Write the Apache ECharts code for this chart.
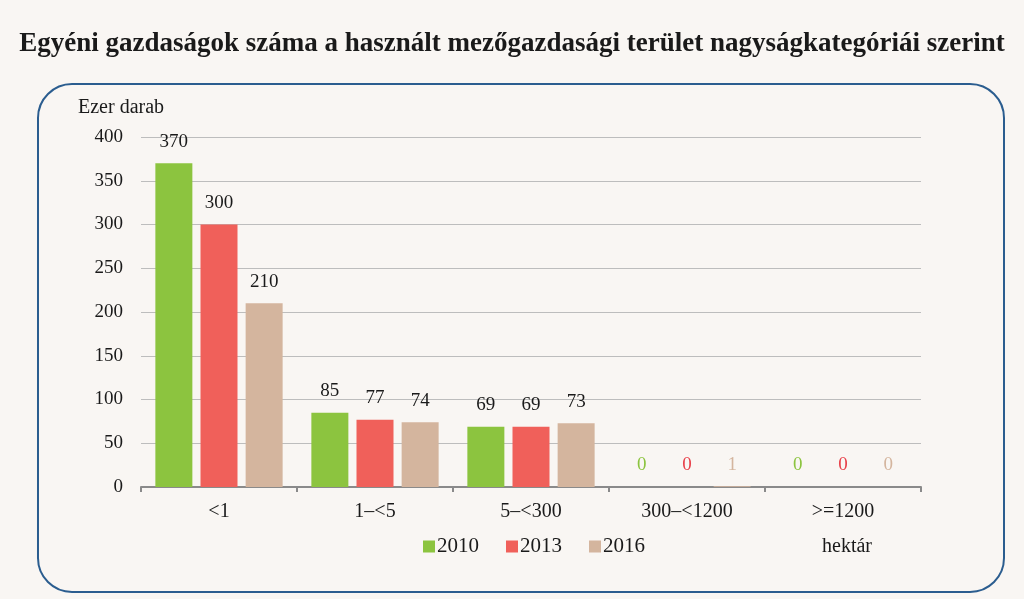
<!DOCTYPE html>
<html><head><meta charset="utf-8">
<script src="https://cdn.jsdelivr.net/npm/echarts@6/dist/echarts.min.js"></script>
<style>html,body{margin:0;padding:0;background:#f9f6f3}#c{width:1024px;height:599px}</style>
</head><body><div id="c"></div>
<script>
const categories = ['<1', '1–<5', '5–<300', '300–<1200', '>=1200'];
const years = ['2010', '2013', '2016'];
const v2010 = [370, 85, 69, 0, 0];
const v2013 = [300, 77, 69, 0, 0];
const v2016 = [210, 74, 73, 1, 0];
const yTicks = [0, 50, 100, 150, 200, 250, 300, 350, 400];

const colors = ['#8cc43f', '#f0605a', '#d4b59e'];
const labelColors = ['#8cc43f', '#e8414a', '#d4b59e'];
const F = '"Liberation Serif", "DejaVu Serif", serif';
const chart = echarts.init(document.getElementById('c'));
const mk = (vals, i) => ({
  name: years[i], type: 'bar', barWidth: 37, barGap: '22%',
  itemStyle: { color: colors[i] },
  data: vals.map((v, k) => ({
    value: v,
    label: { color: k >= 3 ? labelColors[i] : '#1a1a1a' }
  })),
  label: { show: true, position: 'top', distance: 12, fontFamily: F, fontSize: 19 }
});
chart.setOption({
  backgroundColor: '#f9f6f3',
  animation: false,
  title: {
    text: 'Egyéni gazdaságok száma a használt mezőgazdasági terület nagyságkategóriái szerint',
    left: 'center', top: 26,
    textStyle: { fontFamily: F, fontSize: 27, fontWeight: 'bold', color: '#1a1a1a' }
  },
  graphic: [
    { type: 'rect', shape: { x: 38, y: 84, width: 966, height: 508, r: 34 },
      style: { fill: 'none', stroke: '#2b5d8f', lineWidth: 2 }, z: -1 },
    { type: 'text', left: 78, top: 98, style: { text: 'Ezer darab', font: '20px ' + F, fill: '#1a1a1a' } },
    { type: 'text', left: 822, top: 537, style: { text: 'hektár', font: '20px ' + F, fill: '#1a1a1a' } }
  ],
  legend: {
    bottom: 37, left: 418, itemWidth: 12, itemHeight: 12, itemGap: 27,
    icon: 'rect',
    textStyle: { fontFamily: F, fontSize: 21, color: '#1a1a1a' , padding: [0,0,0,-3]},
    data: years
  },
  grid: { left: 141, right: 103, top: 137, bottom: 112 },
  xAxis: {
    type: 'category', data: categories,
    axisLine: { lineStyle: { color: '#8a8a8a', width: 2 } },
    axisTick: { show: true, length: 5, lineStyle: { color: '#8a8a8a', width: 2 } },
    axisLabel: { fontFamily: F, fontSize: 20, color: '#1a1a1a', margin: 15 }
  },
  yAxis: {
    type: 'value', min: 0, max: 400, interval: 50,
    axisLine: { show: false }, axisTick: { show: false },
    axisLabel: { fontFamily: F, fontSize: 19, color: '#1a1a1a', margin: 18,
      formatter: v => yTicks.includes(v) ? String(v) : '' },
    splitLine: { lineStyle: { color: '#bdbdbd', width: 1 } }
  },
  series: [mk(v2010, 0), mk(v2013, 1), mk(v2016, 2)]
});
</script></body></html>
